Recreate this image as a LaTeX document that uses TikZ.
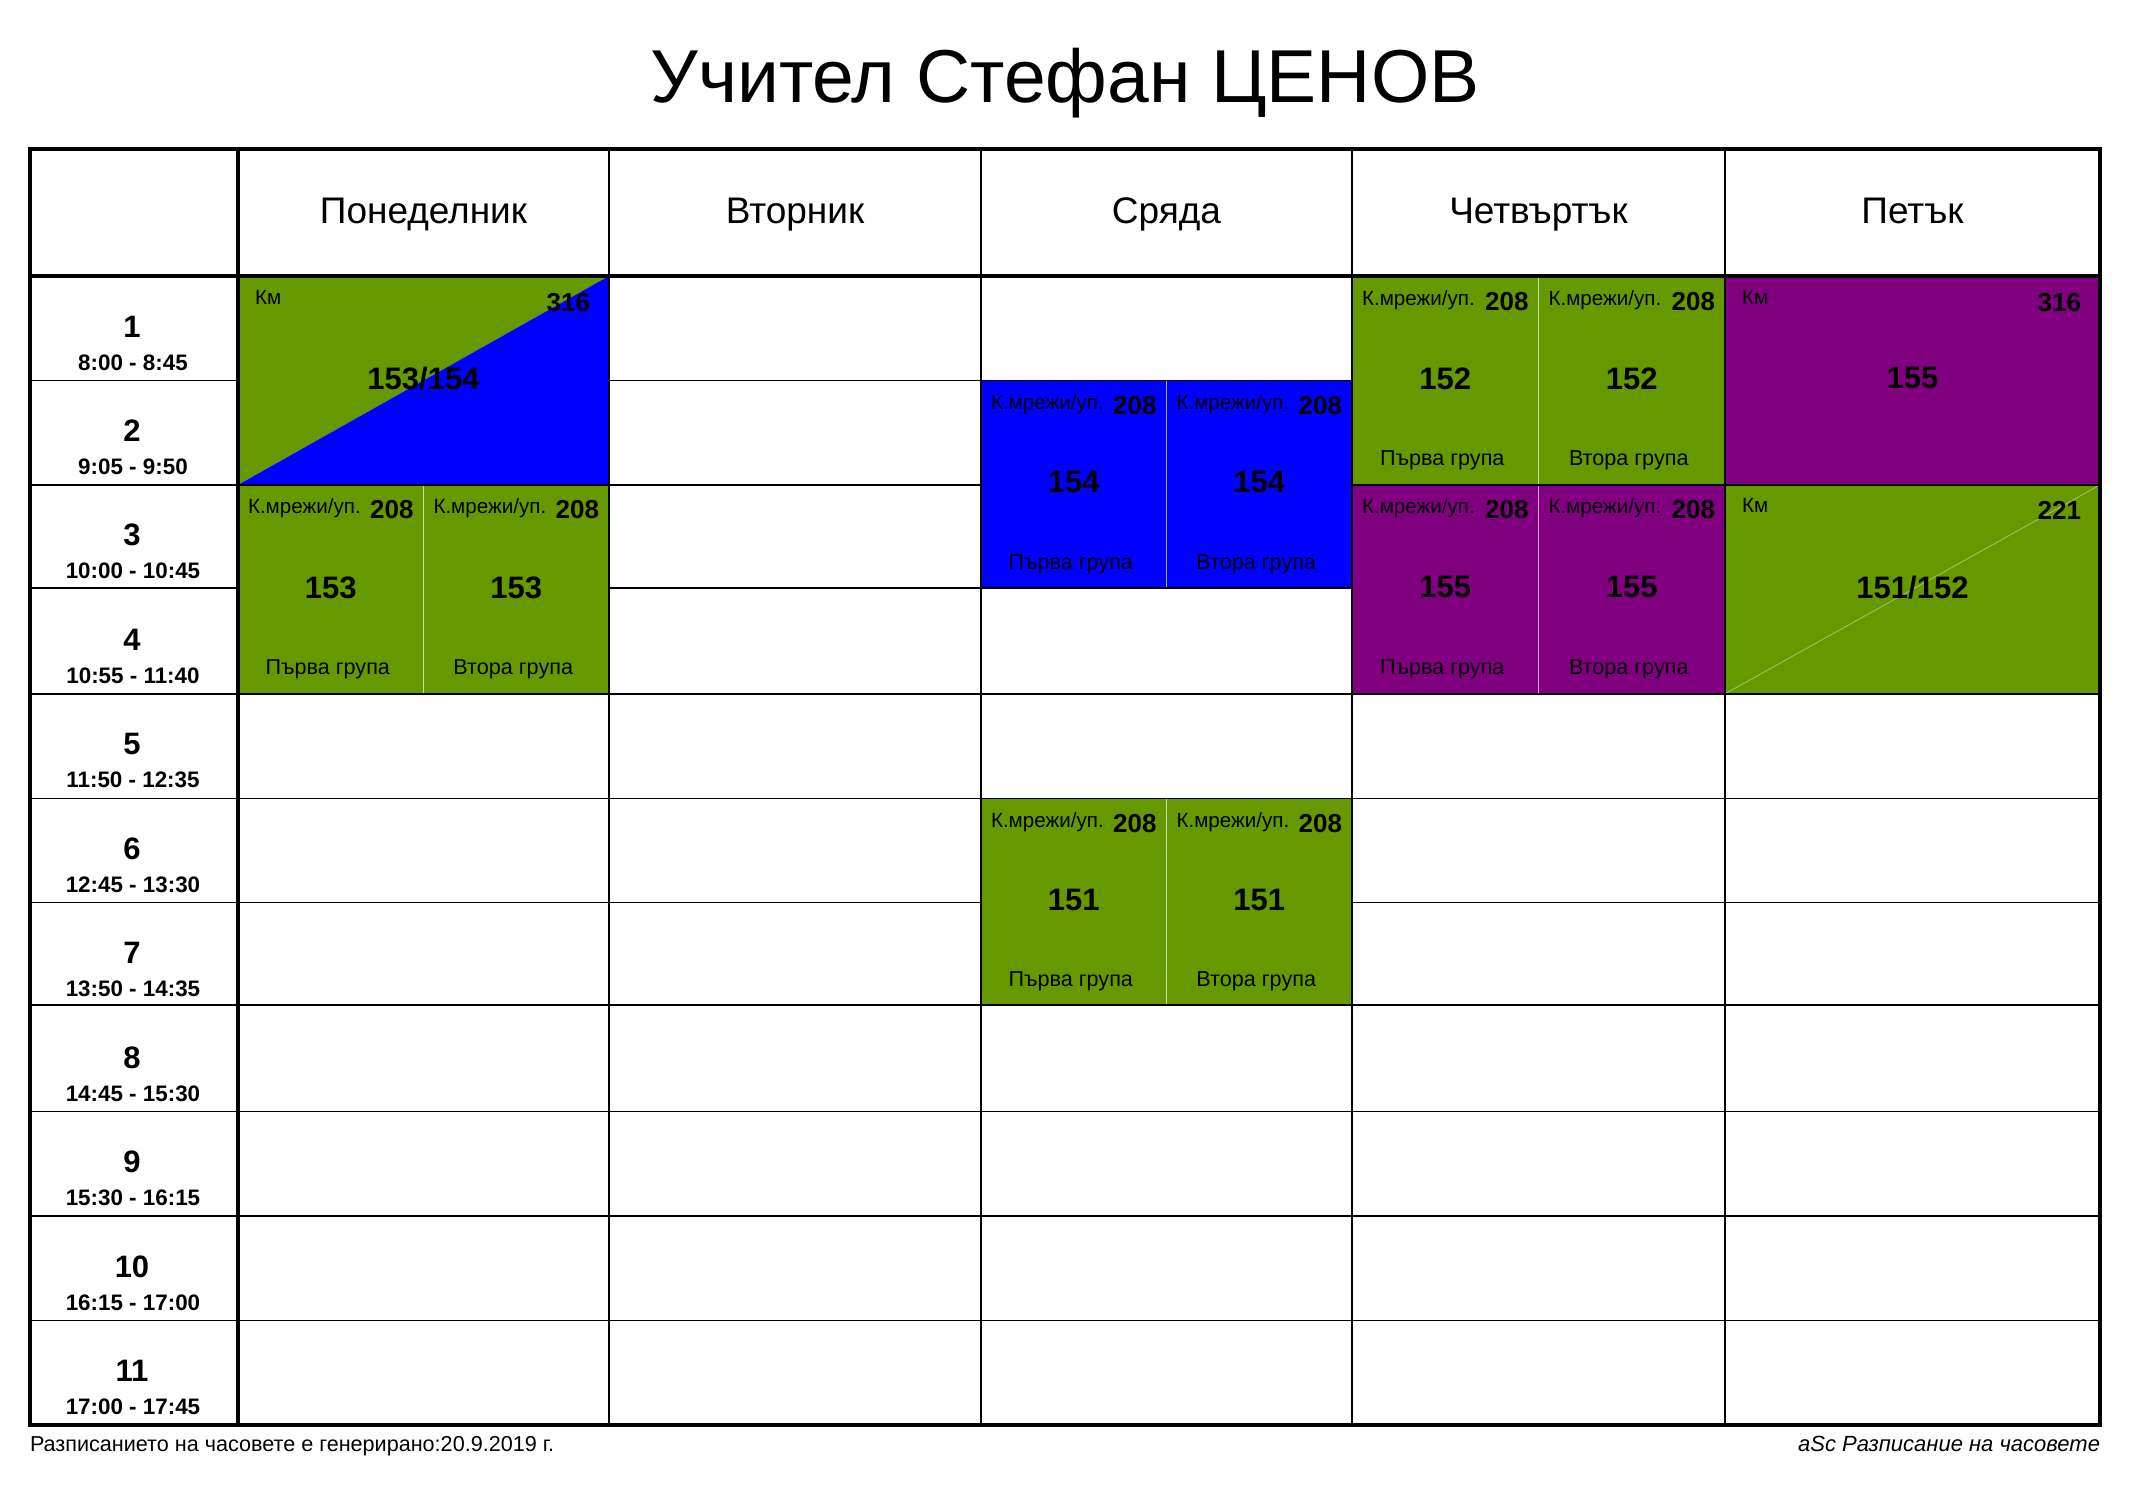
\documentclass[tikz,border=0pt]{standalone}
\usepackage{fontspec}
\setmainfont{Liberation Sans}
\definecolor{cgreen}{RGB}{102,153,0}
\definecolor{cblue}{RGB}{0,0,255}
\definecolor{cpurple}{RGB}{128,0,128}
\tikzset{
 every node/.style={inner sep=0pt, outer sep=0pt},
 thinline/.style={line width=0.7pt, black},
 thickline/.style={line width=2.2pt, black},
 cardline/.style={line width=0.7pt, black},
 splitline/.style={line width=0.5pt, white, opacity=0.65},
 diagline/.style={line width=0.35pt, white, opacity=0.45},
 titlefont/.style={font=\fontsize{37.5}{40}\selectfont},
 dayfont/.style={font=\fontsize{18.5}{20}\selectfont},
 pnum/.style={font=\fontsize{15.5}{17}\selectfont\bfseries},
 ptime/.style={font=\fontsize{11.2}{12}\selectfont\bfseries},
 subj/.style={font=\fontsize{10.3}{11}\selectfont},
 roomno/.style={font=\fontsize{13}{14}\selectfont\bfseries},
 bignum/.style={font=\fontsize{15.5}{17}\selectfont\bfseries},
 grp/.style={font=\fontsize{10.8}{12}\selectfont},
 foot/.style={font=\fontsize{10.8}{12}\selectfont},
 footit/.style={font=\fontsize{11}{12}\selectfont\itshape},
}
\newcommand{\halfcard}[7]{%
 \pgfmathsetmacro{\xmid}{(#2+#3)/2}%
 \pgfmathsetmacro{\xqa}{(#2+\xmid)/2}%
 \pgfmathsetmacro{\xqb}{(\xmid+#3)/2}%
 \pgfmathsetmacro{\ymid}{(#4+#5)/2-2}%
 \fill[#6] (#2,#4) rectangle (#3,#5);
 \draw[splitline] (\xmid,#4) -- (\xmid,#5);
 \draw[cardline] (#2,#4) rectangle (#3,#5);
 \node[subj,anchor=base west] (#1s1) at ({#2+10},{#4+29}) {К.мрежи/уп.};
 \node[roomno,anchor=base east] (#1r1) at ({\xmid-10},{#4+34}) {208};
 \node[bignum] (#1n1) at (\xqa,\ymid) {#7};
 \node[grp,anchor=base] (#1g1) at ({\xqa-3},{#5-19}) {Първа група};
 \node[subj,anchor=base west] (#1s2) at ({\xmid+10},{#4+29}) {К.мрежи/уп.};
 \node[roomno,anchor=base east] (#1r2) at ({#3-10},{#4+34}) {208};
 \node[bignum] (#1n2) at (\xqb,\ymid) {#7};
 \node[grp,anchor=base] (#1g2) at ({\xqb-3},{#5-19}) {Втора група};
}
\newcommand{\fullcard}[7]{%
 \node[subj,anchor=base west] (#1s) at ({#2+17},{#4+28}) {Км};
 \node[roomno,anchor=base east] (#1r) at ({#3-19},{#4+35}) {#6};
 \node[bignum] (#1n) at ({(#2+#3)/2},{(#4+#5)/2-2}) {#7};
}
\begin{document}
\begin{tikzpicture}[x=0.5pt,y=-0.5pt]
\useasboundingbox (0,0) rectangle (2131,1501);
\fill[white] (0,0) rectangle (2131,1501);
% title
\node[titlefont,anchor=base] (title) at (1065,102) {Учител Стефан ЦЕНОВ};
% thin grid
\foreach \r in {380.45,484.9,588,693.8,798.25,902.7,1005,1111.6,1216.05,1320.5}
  \draw[thinline] (30,\r) -- (2100,\r);
\foreach \c in {609,981,1352,1725}
  \draw[thinline] (\c,149) -- (\c,1425);
% Monday 1-2 (split diagonally)
\fill[cgreen] (238,276) -- (609,276) -- (238,484.9) -- cycle;
\fill[cblue] (609,276) -- (609,484.9) -- (238,484.9) -- cycle;
\draw[cardline] (238,276) rectangle (609,484.9);
% Friday full cards
\fill[cpurple] (1725,276) rectangle (2100,484.9);
\draw[cardline] (1725,276) rectangle (2100,484.9);
\fill[cgreen] (1725,484.9) rectangle (2100,693.8);
\draw[diagline] (1725,693.8) -- (2100,484.9);
\draw[cardline] (1725,484.9) rectangle (2100,693.8);
% group cards
\halfcard{mon}{238}{609}{484.9}{693.8}{cgreen}{153}
\halfcard{wedA}{981}{1352}{380.45}{588}{cblue}{154}
\halfcard{wedB}{981}{1352}{798.25}{1005}{cgreen}{151}
\halfcard{thuA}{1352}{1725}{276}{484.9}{cgreen}{152}
\halfcard{thuB}{1352}{1725}{484.9}{693.8}{cpurple}{155}
\fullcard{monK}{238}{609}{276}{484.9}{316}{153/154}
\fullcard{friA}{1725}{2100}{276}{484.9}{316}{155}
\fullcard{friB}{1725}{2100}{484.9}{693.8}{221}{151/152}
% thick lines
\draw[thickline] (30,149) rectangle (2100,1425);
\draw[thickline] (30,276) -- (2100,276);
\draw[thickline] (238,149) -- (238,1425);
% day headers
\foreach \d/\x/\n in {Понеделник/423.5/d1,Вторник/795/d2,Сряда/1166.5/d3,Четвъртък/1538.5/d4,Петък/1912.5/d5}
  \node[dayfont,anchor=base] (\n) at (\x,223) {\d};
% periods
\foreach \i/\t in {1/8:00 - 8:45,2/9:05 - 9:50,3/10:00 - 10:45,4/10:55 - 11:40,5/11:50 - 12:35,6/12:45 - 13:30,7/13:50 - 14:35,8/14:45 - 15:30,9/15:30 - 16:15,10/16:15 - 17:00,11/17:00 - 17:45}{
  \pgfmathsetmacro{\ytop}{276+(\i-1)*104.45}
  \node[pnum,anchor=base] (p\i) at (132,{\ytop+61}) {\i};
  \node[ptime,anchor=base] (t\i) at (133,{\ytop+94}) {\t};
}
% footer
\node[foot,anchor=base west] (footl) at (30,1451) {Разписанието на часовете е генерирано:20.9.2019 г.};
\node[footit,anchor=base east] (footr) at (2100,1451) {aSc Разписание на часовете};
\end{tikzpicture}
\end{document}
